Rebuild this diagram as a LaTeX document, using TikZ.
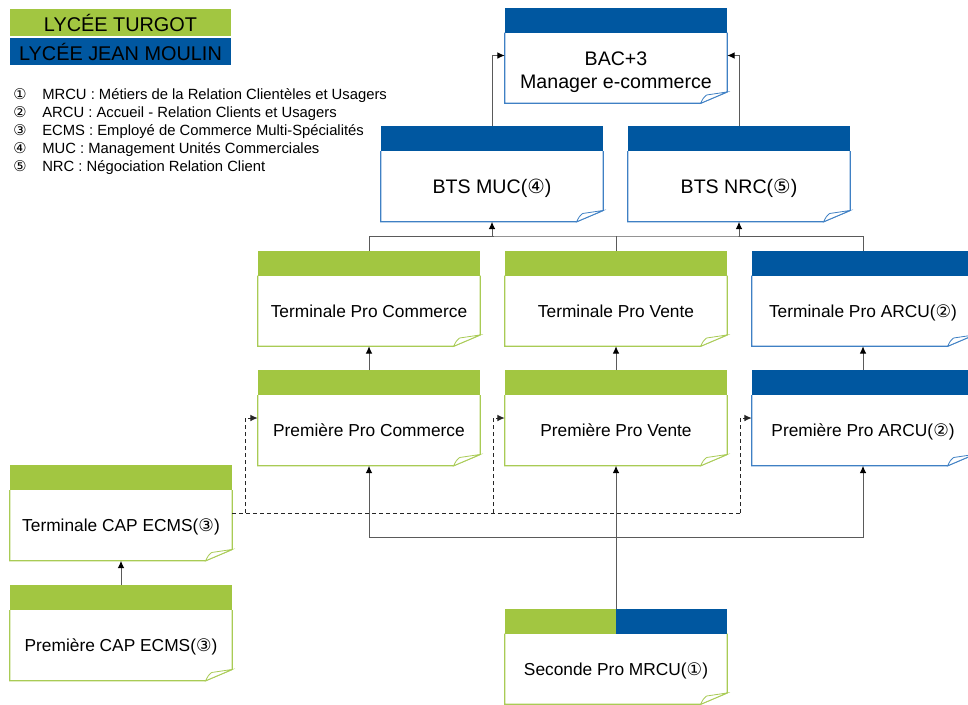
\documentclass[tikz,border=0pt]{standalone}
\usepackage{fontspec}
\setmainfont{Liberation Sans}
\newfontfamily\symbfont{DejaVu Sans}
\usetikzlibrary{arrows.meta}
\definecolor{vertTurgot}{HTML}{A2C641}
\definecolor{bleuMoulin}{HTML}{0057A0}
\definecolor{bordVert}{HTML}{A9CB55}
\definecolor{bordBleu}{HTML}{3F80C4}
\definecolor{trait}{HTML}{5A5A5A}
\tikzset{boite/.style={rectangle,minimum width=166.5pt,minimum height=71.25pt,inner sep=0pt}}
\tikzset{texte boite/.style={font=\fontsize{13}{17.25}\selectfont,align=center,inner sep=0pt,text depth=0pt}}
\tikzset{grand texte/.style={font=\fontsize{14.7}{17.25}\selectfont}}
\tikzset{cartouche/.style={rectangle,minimum width=165.75pt,minimum height=20.25pt,inner sep=0pt,font=\fontsize{14.9}{17}\selectfont}}
\tikzset{legende/.style={anchor=west,inner sep=0pt,font=\fontsize{11.1}{13}\selectfont}}
\tikzset{liaison/.style={draw=trait,line width=0.75pt}}
\tikzset{fleche/.style={liaison,-{Latex[length=5.5pt,width=5pt,black]}}}
\tikzset{pointille/.style={draw=black!85,line width=0.75pt,dash pattern=on 3pt off 2.25pt}}
\newcommand{\cercle}[1]{\smash{\symbfont #1}}
% boite de formation : [style du texte], nom, x, y, fond, bord, texte
\newcommand{\formation}[7][]{%
  \node[boite] (#2) at (#3,#4) {};
  \fill[#5] (#2.north west) rectangle ([yshift=-18.75pt]#2.north east);
  \draw[#6,line width=0.9pt] ([yshift=-18.75pt]#2.north west) -- (#2.south west)
    -- ([xshift=-20pt]#2.south east) -- ([yshift=8.5pt]#2.south east)
    -- ([yshift=-18.75pt]#2.north east);
  \draw[#6,line width=0.6pt,fill=white] ([xshift=-20pt]#2.south east)
    .. controls ([xshift=-18pt,yshift=4pt]#2.south east) .. ([xshift=-15.5pt,yshift=6.2pt]#2.south east)
    -- ([yshift=8.5pt]#2.south east) -- cycle;
  \node[texte boite,#1] (#2-texte) at ([yshift=-9.4pt]#2.center) {#7};
}

\begin{document}
\begin{tikzpicture}[x=0.75pt,y=-0.75pt]
  \useasboundingbox (0,0) rectangle (968,704);

  % legende
  \node[cartouche,fill=vertTurgot] (turgot) at (120.5,22.5) {LYCÉE TURGOT};
  \node[cartouche,fill=bleuMoulin] (moulin) at (120.5,51.5) {LYCÉE JEAN MOULIN};
  \node[legende] (l1) at (13,95.5) {\makebox[21.75pt][l]{\cercle{①}}MRCU : Métiers de la Relation Clientèles et Usagers};
  \node[legende] (l2) at (13,113.5) {\makebox[21.75pt][l]{\cercle{②}}ARCU : Accueil - Relation Clients et Usagers};
  \node[legende] (l3) at (13,131.5) {\makebox[21.75pt][l]{\cercle{③}}ECMS : Employé de Commerce Multi-Spécialités};
  \node[legende] (l4) at (13,149.5) {\makebox[21.75pt][l]{\cercle{④}}MUC : Management Unités Commerciales};
  \node[legende] (l5) at (13,167.5) {\makebox[21.75pt][l]{\cercle{⑤}}NRC : Négociation Relation Client};

  % formations
  \formation[grand texte,yshift=-1.5pt]{bac}{616}{55.5}{bleuMoulin}{bordBleu}{BAC+3\\Manager e-commerce}
  \formation[grand texte]{muc}{492}{174}{bleuMoulin}{bordBleu}{BTS MUC(\cercle{④})}
  \formation[grand texte]{nrc}{739}{174}{bleuMoulin}{bordBleu}{BTS NRC(\cercle{⑤})}
  \formation{tpc}{369}{298.5}{vertTurgot}{bordVert}{Terminale Pro Commerce}
  \formation{tpv}{616}{298.5}{vertTurgot}{bordVert}{Terminale Pro Vente}
  \formation{tpa}{863}{298.5}{bleuMoulin}{bordBleu}{Terminale Pro ARCU(\cercle{②})}
  \formation{ppc}{369}{418}{vertTurgot}{bordVert}{Première Pro Commerce}
  \formation{ppv}{616}{418}{vertTurgot}{bordVert}{Première Pro Vente}
  \formation{ppa}{863}{418}{bleuMoulin}{bordBleu}{Première Pro ARCU(\cercle{②})}
  \formation{tcap}{121}{513}{vertTurgot}{bordVert}{Terminale CAP ECMS(\cercle{③})}
  \formation{pcap}{121}{633}{vertTurgot}{bordVert}{Première CAP ECMS(\cercle{③})}
  \formation{sec}{616}{656.5}{vertTurgot}{bordVert}{Seconde Pro MRCU(\cercle{①})}
  \fill[bleuMoulin] (sec.north) rectangle ([yshift=-18.75pt]sec.north east);

  % liaisons
  \draw[fleche] (muc.north) |- (bac.west);
  \draw[fleche] (nrc.north) |- (bac.east);

  \coordinate (bushaut) at (616,236);
  \draw[liaison] (tpc.north) |- (bushaut) -| (tpa.north);
  \draw[liaison] (tpv.north) -- (bushaut);
  \draw[fleche] (bushaut -| muc.south) -- (muc.south);
  \draw[fleche] (bushaut -| nrc.south) -- (nrc.south);

  \draw[fleche] (ppc.north) -- (tpc.south);
  \draw[fleche] (ppv.north) -- (tpv.south);
  \draw[fleche] (ppa.north) -- (tpa.south);

  \coordinate (busbas) at (616,537);
  \draw[fleche] (sec.north) -- (ppv.south);
  \draw[fleche] (busbas) -| (ppc.south);
  \draw[fleche] (busbas) -| (ppa.south);

  \coordinate (c1) at (245,513);
  \coordinate (c2) at (493,513);
  \coordinate (c3) at (740,513);
  \draw[pointille] (tcap.east) -- (c3);
  \draw[pointille,-{Latex[length=5.5pt,width=5pt]}] (c1) |- (ppc.west);
  \draw[pointille,-{Latex[length=5.5pt,width=5pt]}] (c2) |- (ppv.west);
  \draw[pointille,-{Latex[length=5.5pt,width=5pt]}] (c3) |- (ppa.west);

  \draw[fleche] (pcap.north) -- (tcap.south);
\end{tikzpicture}
\end{document}
